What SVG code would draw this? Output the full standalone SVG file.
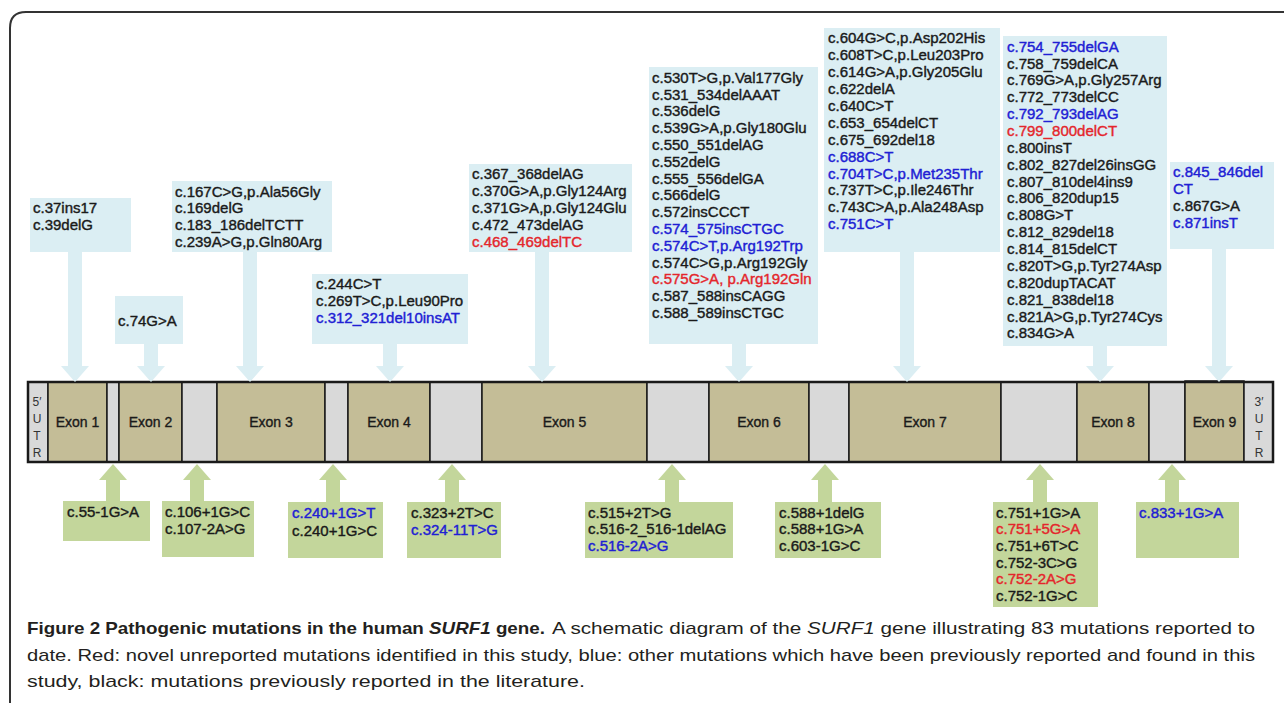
<svg xmlns="http://www.w3.org/2000/svg" width="1284" height="703" viewBox="0 0 1284 703">
<style>
.t{font-family:"Liberation Sans",Arial,sans-serif;font-size:15px;fill:#1a1a1a;stroke:#1a1a1a;stroke-width:0.4}
.b{fill:#2020d4;stroke:#2020d4}
.r{fill:#e4262c;stroke:#e4262c}
.bx{fill:#dbeef3}
.gx{fill:#c3d69b}
.ar{fill:#dbeef3}
.ag{fill:#c3d69b}
.ex{fill:#c4bd97;stroke:#1a1a1a;stroke-width:1.5}
.in{fill:#d9d9d9;stroke:#1a1a1a;stroke-width:1.5}
.el{font-family:"Liberation Sans",Arial,sans-serif;font-size:14px;fill:#1a1a1a;stroke:#1a1a1a;stroke-width:0.35;text-anchor:middle}
.ut{font-family:"Liberation Sans",Arial,sans-serif;font-size:12px;fill:#333;text-anchor:middle}
.cap{font-family:"Liberation Sans",Arial,sans-serif;font-size:17px;fill:#231f20}
</style>
<rect x="0" y="0" width="1284" height="703" fill="#ffffff"/>
<path d="M10 703 L10 28 Q10 12 26 12 L1284 12" fill="none" stroke="#333" stroke-width="2"/>

<g id="gene">
<rect class="in" x="28" y="382" width="20" height="80"/>
<rect class="ex" x="48" y="382" width="59" height="80"/>
<rect class="in" x="107" y="382" width="12" height="80"/>
<rect class="ex" x="119" y="382" width="63" height="80"/>
<rect class="in" x="182" y="382" width="35" height="80"/>
<rect class="ex" x="217" y="382" width="108" height="80"/>
<rect class="in" x="325" y="382" width="23" height="80"/>
<rect class="ex" x="348" y="382" width="82" height="80"/>
<rect class="in" x="430" y="382" width="52" height="80"/>
<rect class="ex" x="482" y="382" width="165" height="80"/>
<rect class="in" x="647" y="382" width="62" height="80"/>
<rect class="ex" x="709" y="382" width="100" height="80"/>
<rect class="in" x="809" y="382" width="40" height="80"/>
<rect class="ex" x="849" y="382" width="152" height="80"/>
<rect class="in" x="1001" y="382" width="76" height="80"/>
<rect class="ex" x="1077" y="382" width="72" height="80"/>
<rect class="in" x="1149" y="382" width="36" height="80"/>
<rect class="ex" x="1185" y="381" width="59" height="81"/>
<rect class="in" x="1244" y="382" width="29" height="80"/>
<rect x="28" y="382" width="1245" height="80" fill="none" stroke="#1a1a1a" stroke-width="2.5"/>
<text class="ut" x="37" y="406">5′</text>
<text class="ut" x="37" y="423">U</text>
<text class="ut" x="37" y="440">T</text>
<text class="ut" x="37" y="457">R</text>
<text class="ut" x="1259" y="406">3′</text>
<text class="ut" x="1259" y="423">U</text>
<text class="ut" x="1259" y="440">T</text>
<text class="ut" x="1259" y="457">R</text>
<text class="el" x="77.5" y="427">Exon 1</text>
<text class="el" x="150.5" y="427">Exon 2</text>
<text class="el" x="271" y="427">Exon 3</text>
<text class="el" x="389" y="427">Exon 4</text>
<text class="el" x="564.5" y="427">Exon 5</text>
<text class="el" x="759" y="427">Exon 6</text>
<text class="el" x="925" y="427">Exon 7</text>
<text class="el" x="1113" y="427">Exon 8</text>
<text class="el" x="1214.5" y="427">Exon 9</text>
</g>

<g id="connectors">
<polygon class="ar" points="68,252 82,252 82,366 89,366 75,382 61,366 68,366"/>
<polygon class="ar" points="144,344 158,344 158,366 165,366 151,382 137,366 144,366"/>
<polygon class="ar" points="243,252 257,252 257,366 264,366 250,382 236,366 243,366"/>
<polygon class="ar" points="383,344 397,344 397,366 404,366 390,382 376,366 383,366"/>
<polygon class="ar" points="535,252 549,252 549,366 556,366 542,382 528,366 535,366"/>
<polygon class="ar" points="732,344 746,344 746,366 753,366 739,382 725,366 732,366"/>
<polygon class="ar" points="900,252 914,252 914,366 921,366 907,382 893,366 900,366"/>
<polygon class="ar" points="1093,346 1107,346 1107,366 1114,366 1100,382 1086,366 1093,366"/>
<polygon class="ar" points="1212,249 1226,249 1226,366 1233,366 1219,382 1205,366 1212,366"/>
<polygon class="ag" points="113,464 127,480 120,480 120,502 106,502 106,480 99,480"/>
<polygon class="ag" points="197,464 211,480 204,480 204,502 190,502 190,480 183,480"/>
<polygon class="ag" points="333,464 347,480 340,480 340,502 326,502 326,480 319,480"/>
<polygon class="ag" points="452,464 466,480 459,480 459,502 445,502 445,480 438,480"/>
<polygon class="ag" points="672,464 686,480 679,480 679,502 665,502 665,480 658,480"/>
<polygon class="ag" points="825,464 839,480 832,480 832,502 818,502 818,480 811,480"/>
<polygon class="ag" points="1040,464 1054,480 1047,480 1047,502 1033,502 1033,480 1026,480"/>
<polygon class="ag" points="1172,464 1186,480 1179,480 1179,502 1165,502 1165,480 1158,480"/>
</g>

<g id="exon1-mutations">
<rect class="bx" x="30" y="198" width="101" height="54"/>
<text class="t" x="33" y="213.3">c.37ins17</text>
<text class="t" x="33" y="230">c.39delG</text>
</g>
<g id="exon2-mutations">
<rect class="bx" x="115" y="296" width="68" height="48"/>
<text class="t" x="118" y="326">c.74G&gt;A</text>
</g>
<g id="exon3-mutations">
<rect class="bx" x="172" y="181" width="160" height="71"/>
<text class="t" x="175" y="196.5">c.167C&gt;G,p.Ala56Gly</text>
<text class="t" x="175" y="213.3">c.169delG</text>
<text class="t" x="175" y="230">c.183_186delTCTT</text>
<text class="t" x="175" y="246.8">c.239A&gt;G,p.Gln80Arg</text>
</g>
<g id="exon4-mutations">
<rect class="bx" x="312" y="274" width="156" height="70"/>
<text class="t" x="316" y="289">c.244C&gt;T</text>
<text class="t" x="316" y="305.8">c.269T&gt;C,p.Leu90Pro</text>
<text class="t b" x="316" y="322.6">c.312_321del10insAT</text>
</g>
<g id="exon5-mutations">
<rect class="bx" x="469" y="164" width="163" height="88"/>
<text class="t" x="472" y="179.3">c.367_368delAG</text>
<text class="t" x="472" y="196.1">c.370G&gt;A,p.Gly124Arg</text>
<text class="t" x="472" y="212.9">c.371G&gt;A,p.Gly124Glu</text>
<text class="t" x="472" y="229.7">c.472_473delAG</text>
<text class="t r" x="472" y="246.5">c.468_469delTC</text>
</g>
<g id="exon6-mutations">
<rect class="bx" x="649" y="67" width="169" height="277"/>
<text class="t" x="652" y="82.7">c.530T&gt;G,p.Val177Gly</text>
<text class="t" x="652" y="99.5">c.531_534delAAAT</text>
<text class="t" x="652" y="116.3">c.536delG</text>
<text class="t" x="652" y="133.1">c.539G&gt;A,p.Gly180Glu</text>
<text class="t" x="652" y="149.9">c.550_551delAG</text>
<text class="t" x="652" y="166.7">c.552delG</text>
<text class="t" x="652" y="183.5">c.555_556delGA</text>
<text class="t" x="652" y="200.3">c.566delG</text>
<text class="t" x="652" y="217.1">c.572insCCCT</text>
<text class="t b" x="652" y="233.9">c.574_575insCTGC</text>
<text class="t b" x="652" y="250.7">c.574C&gt;T,p.Arg192Trp</text>
<text class="t" x="652" y="267.5">c.574C&gt;G,p.Arg192Gly</text>
<text class="t r" x="652" y="284.3">c.575G&gt;A, p.Arg192Gln</text>
<text class="t" x="652" y="301.1">c.587_588insCAGG</text>
<text class="t" x="652" y="317.9">c.588_589insCTGC</text>
</g>
<g id="exon7-mutations">
<rect class="bx" x="824" y="28" width="176" height="224"/>
<text class="t" x="828" y="43.3">c.604G&gt;C,p.Asp202His</text>
<text class="t" x="828" y="60.2">c.608T&gt;C,p.Leu203Pro</text>
<text class="t" x="828" y="77.1">c.614G&gt;A,p.Gly205Glu</text>
<text class="t" x="828" y="94">c.622delA</text>
<text class="t" x="828" y="110.9">c.640C&gt;T</text>
<text class="t" x="828" y="127.8">c.653_654delCT</text>
<text class="t" x="828" y="144.7">c.675_692del18</text>
<text class="t b" x="828" y="161.6">c.688C&gt;T</text>
<text class="t b" x="828" y="178.5">c.704T&gt;C,p.Met235Thr</text>
<text class="t" x="828" y="195.4">c.737T&gt;C,p.Ile246Thr</text>
<text class="t" x="828" y="212.3">c.743C&gt;A,p.Ala248Asp</text>
<text class="t b" x="828" y="229.2">c.751C&gt;T</text>
</g>
<g id="exon8-mutations">
<rect class="bx" x="1003" y="36" width="164" height="310"/>
<text class="t b" x="1007" y="51.7">c.754_755delGA</text>
<text class="t" x="1007" y="68.6">c.758_759delCA</text>
<text class="t" x="1007" y="85.4">c.769G&gt;A,p.Gly257Arg</text>
<text class="t" x="1007" y="102.3">c.772_773delCC</text>
<text class="t b" x="1007" y="119.1">c.792_793delAG</text>
<text class="t r" x="1007" y="136">c.799_800delCT</text>
<text class="t" x="1007" y="152.9">c.800insT</text>
<text class="t" x="1007" y="169.7">c.802_827del26insGG</text>
<text class="t" x="1007" y="186.6">c.807_810del4ins9</text>
<text class="t" x="1007" y="203.4">c.806_820dup15</text>
<text class="t" x="1007" y="220.3">c.808G&gt;T</text>
<text class="t" x="1007" y="237.2">c.812_829del18</text>
<text class="t" x="1007" y="254">c.814_815delCT</text>
<text class="t" x="1007" y="270.9">c.820T&gt;G,p.Tyr274Asp</text>
<text class="t" x="1007" y="287.7">c.820dupTACAT</text>
<text class="t" x="1007" y="304.6">c.821_838del18</text>
<text class="t" x="1007" y="321.5">c.821A&gt;G,p.Tyr274Cys</text>
<text class="t" x="1007" y="338.3">c.834G&gt;A</text>
</g>
<g id="exon9-mutations">
<rect class="bx" x="1170" y="162" width="104" height="87"/>
<text class="t b" x="1173" y="177.3">c.845_846del</text>
<text class="t b" x="1173" y="194.3">CT</text>
<text class="t" x="1173" y="211">c.867G&gt;A</text>
<text class="t b" x="1173" y="227.7">c.871insT</text>
</g>

<g id="intron1-mutations">
<rect class="gx" x="63" y="501" width="87" height="40"/>
<text class="t" x="67" y="517">c.55-1G&gt;A</text>
</g>
<g id="intron2-mutations">
<rect class="gx" x="162" y="501" width="92" height="56"/>
<text class="t" x="165" y="517">c.106+1G&gt;C</text>
<text class="t" x="165" y="533.5">c.107-2A&gt;G</text>
</g>
<g id="intron3-mutations">
<rect class="gx" x="288" y="502" width="95" height="56"/>
<text class="t b" x="292" y="517.5">c.240+1G&gt;T</text>
<text class="t" x="292" y="535.5">c.240+1G&gt;C</text>
</g>
<g id="intron4-mutations">
<rect class="gx" x="407" y="502" width="94" height="56"/>
<text class="t" x="411" y="517.5">c.323+2T&gt;C</text>
<text class="t b" x="411" y="535">c.324-11T&gt;G</text>
</g>
<g id="intron5-mutations">
<rect class="gx" x="585" y="502" width="148" height="56"/>
<text class="t" x="588" y="517.5">c.515+2T&gt;G</text>
<text class="t" x="588" y="534.3">c.516-2_516-1delAG</text>
<text class="t b" x="588" y="551">c.516-2A&gt;G</text>
</g>
<g id="intron6-mutations">
<rect class="gx" x="775" y="502" width="106" height="56"/>
<text class="t" x="779" y="517.5">c.588+1delG</text>
<text class="t" x="779" y="534.3">c.588+1G&gt;A</text>
<text class="t" x="779" y="551">c.603-1G&gt;C</text>
</g>
<g id="intron7-mutations">
<rect class="gx" x="993" y="502" width="105" height="105"/>
<text class="t" x="996" y="517.5">c.751+1G&gt;A</text>
<text class="t r" x="996" y="534.2">c.751+5G&gt;A</text>
<text class="t" x="996" y="550.9">c.751+6T&gt;C</text>
<text class="t" x="996" y="567.6">c.752-3C&gt;G</text>
<text class="t r" x="996" y="584.3">c.752-2A&gt;G</text>
<text class="t" x="996" y="601">c.752-1G&gt;C</text>
</g>
<g id="intron8-mutations">
<rect class="gx" x="1136" y="502" width="103" height="56"/>
<text class="t b" x="1139" y="517.5">c.833+1G&gt;A</text>
</g>

<g id="caption">
<text class="cap" x="27" y="634" font-weight="bold" fill="#000" textLength="518" lengthAdjust="spacingAndGlyphs">Figure 2 Pathogenic mutations in the human <tspan font-style="italic">SURF1</tspan> gene.</text>
<text class="cap" x="552" y="634" textLength="703" lengthAdjust="spacingAndGlyphs">A schematic diagram of the <tspan font-style="italic">SURF1</tspan> gene illustrating 83 mutations reported to</text>
<text class="cap" x="27" y="661" textLength="1228" lengthAdjust="spacingAndGlyphs">date. Red: novel unreported mutations identified in this study, blue: other mutations which have been previously reported and found in this</text>
<text class="cap" x="27" y="687" textLength="558" lengthAdjust="spacingAndGlyphs">study, black: mutations previously reported in the literature.</text>
</g>
</svg>
